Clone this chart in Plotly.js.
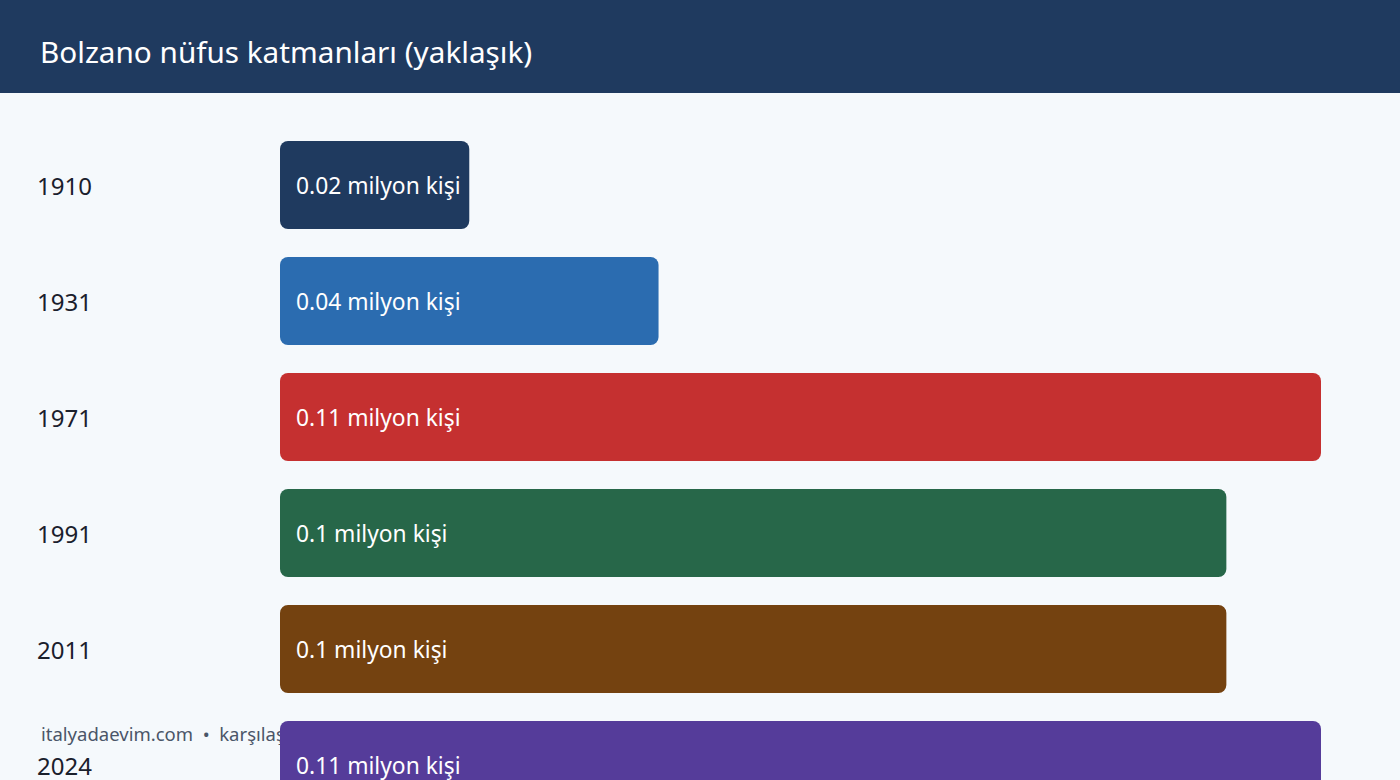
<!DOCTYPE html>
<html>
<head>
<meta charset="utf-8">
<script src="https://cdn.plot.ly/plotly-3.0.1.min.js"></script>
<style>
  html, body { margin: 0; padding: 0; background: #f5f9fc; }
  #chart { width: 1400px; height: 780px; }
</style>
</head>
<body>
<div id="chart"></div>
<script>
// ---- data ----
const years = ['1910', '1931', '1971', '1991', '2011', '2024'];
const population = [0.02, 0.04, 0.11, 0.1, 0.1, 0.11]; // milyon kişi
const labels = ['0.02 milyon kişi', '0.04 milyon kişi', '0.11 milyon kişi', '0.1 milyon kişi', '0.1 milyon kişi', '0.11 milyon kişi'];
const barColors = ['#1f3a5f', '#2b6cb0', '#c53030', '#276749', '#744210', '#553c9a'];
const chartTitle = 'Bolzano nüfus katmanları (yaklaşık)';
const footerText = 'italyadaevim.com  •  karşılaştırma amaçlı yaklaşık değerler';

// ---- layout geometry ----
const W = 1400, H = 780;
const marginL = 280, marginR = 79, marginT = 93, marginB = 0;
const plotW = W - marginL - marginR;
const plotH = H - marginT - marginB;
const FONT = 'Noto Sans, Open Sans, sans-serif';

const bars = {
  type: 'bar', orientation: 'h',
  y: years, x: population, base: population.map(() => 0),
  marker: { color: barColors, cornerradius: 8, line: { width: 0 } },
  customdata: labels,
  hovertemplate: '%{y}: %{customdata}<extra></extra>',
  showlegend: false
};

const annotations = [];
years.forEach((y, i) => {
  annotations.push({
    xref: 'paper', yref: 'y', x: 0, y: i,
    xanchor: 'left', yanchor: 'middle', xshift: 35 - marginL,
    text: y, showarrow: false,
    font: { family: FONT, size: 24, color: '#1a202c' }
  });
  annotations.push({
    xref: 'x', yref: 'y', x: 0, y: i,
    xanchor: 'left', yanchor: 'middle', xshift: 14,
    text: labels[i], showarrow: false,
    font: { family: FONT, size: 22.8, color: '#ffffff' }
  });
});
annotations.push({
  xref: 'paper', yref: 'paper', x: 0, y: 1 + 41 / plotH,
  xanchor: 'left', yanchor: 'middle', xshift: 38 - marginL,
  text: chartTitle, showarrow: false,
  font: { family: FONT, size: 29.7, color: '#ffffff' }
});

const pxX = p => (p - marginL) / plotW;
const pxY = p => (H - marginB - p) / plotH;

const layout = {
  width: W, height: H,
  margin: { l: marginL, r: marginR, t: marginT, b: marginB, pad: 0 },
  paper_bgcolor: '#f5f9fc', plot_bgcolor: 'rgba(0,0,0,0)',
  bargap: 0.241,
  xaxis: { range: [0, 0.11], visible: false, fixedrange: true },
  yaxis: {
    type: 'category', categoryorder: 'array', categoryarray: years,
    range: [5 + 15 / 116, -92 / 116], visible: false, fixedrange: true
  },
  shapes: [
    { type: 'rect', xref: 'paper', yref: 'paper', x0: pxX(0), x1: pxX(W), y0: pxY(93), y1: pxY(0),
      fillcolor: '#1f3a5f', line: { width: 0 }, layer: 'below' },
    { type: 'rect', xref: 'paper', yref: 'paper', x0: pxX(35), x1: pxX(900), y0: pxY(748), y1: pxY(722),
      fillcolor: 'rgba(0,0,0,0)', line: { width: 0 }, layer: 'below',
      label: { text: footerText, textposition: 'middle left', padding: 3,
               font: { family: FONT, size: 18.5, color: '#4a5568' } } }
  ],
  annotations: annotations,
  font: { family: FONT }
};

Plotly.newPlot('chart', [bars], layout, { displayModeBar: false, staticPlot: true });
</script>
</body>
</html>
